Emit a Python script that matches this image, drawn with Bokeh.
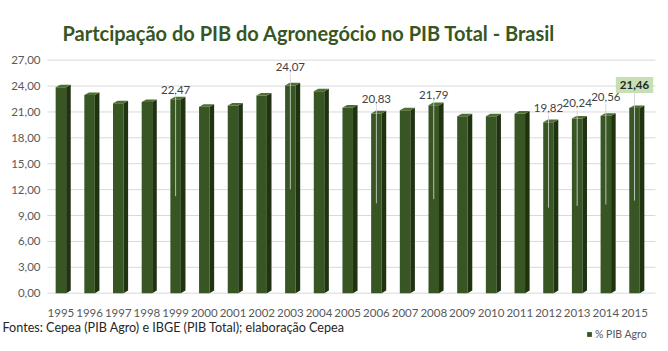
from bokeh.plotting import figure
from bokeh.models import (ColumnDataSource, FixedTicker, Label, Range1d,
                          Legend, LegendItem)
from bokeh.core.properties import value
from bokeh.embed import file_html
from bokeh.resources import INLINE

# ---- data ----
years = list(range(1995, 2016))
pib_agro = [23.85, 22.95, 22.0, 22.15, 22.47, 21.6, 21.75, 22.9, 24.07, 23.4, 21.5,
            20.83, 21.2, 21.79, 20.5, 20.5, 20.8, 19.82, 20.24, 20.56, 21.46]
label_years = [1999, 2003, 2006, 2008, 2012, 2013, 2014]
label_values = [22.47, 24.07, 20.83, 21.79, 19.82, 20.24, 20.56]
highlight_year = 2015
highlight_value = 21.46
y_ticks = [0, 3, 6, 9, 12, 15, 18, 21, 24, 27]
title_text = "Partcipação do PIB do Agronegócio no PIB Total - Brasil"
source_text = "Fontes: Cepea (PIB Agro) e IBGE (PIB Total); elaboração Cepea"
series_name = "% PIB Agro"

# ---- layout / style (not data) ----
label_offsets = [1.12, 2.09, 1.72, 1.2, 1.6, 1.74, 2.12]
highlight_offset = 2.66
FRONT = "#375623"
SIDE = "#1f3310"
TOP = "#4d7030"
FONT = "Lato"
X0, X1 = 1992.894, 2016.185       # frame spans full width
AXIS_X = 1994.463                  # where the value axis sits
GRID_X0, GRID_X1 = 1994.53, 2015.73

p = figure(width=668, height=351, output_backend="svg", toolbar_location=None,
           x_range=Range1d(X0, X1), y_range=Range1d(-6.755, 27.54),
           min_border=0, min_border_top=55, outline_line_color=None)

# title
p.title.text = title_text
p.title.align = "left"
p.title.offset = 62
p.title.standoff = 21
p.title.text_font = FONT
p.title.text_font_size = "20px"
p.title.text_font_style = "bold"
p.title.text_color = "#375623"

# grid lines
p.xgrid.visible = False
p.ygrid.visible = False
p.segment(x0=[GRID_X0] * len(y_ticks), x1=[GRID_X1] * len(y_ticks),
          y0=y_ticks, y1=y_ticks, line_color="#d9d9d9", line_width=1)

# 3D bar faces computed in data space
w = 0.183
dx = 0.16
dy = 0.3
front = ColumnDataSource(dict(x=years, top=pib_agro))
bars = p.vbar(x="x", top="top", bottom=0, width=2 * w, source=front,
              fill_color=FRONT, line_color=None)
side_xs = [[x + w, x + w + dx, x + w + dx, x + w] for x in years]
side_ys = [[0, dy, v + dy, v] for v in pib_agro]
p.patches(side_xs, side_ys, fill_color=SIDE, line_color=None)
top_xs = [[x - w, x + w, x + w + dx, x - w + dx] for x in years]
top_ys = [[v, v, v + dy, v + dy] for v in pib_agro]
p.patches(top_xs, top_ys, fill_color=TOP, line_color=None)

# leader lines
all_lab_years = label_years + [highlight_year]
all_lab_vals = label_values + [highlight_value]
all_offsets = label_offsets + [highlight_offset]
p.segment(x0=all_lab_years, y0=[v + o - 0.75 for v, o in zip(all_lab_vals, all_offsets)],
          x1=all_lab_years, y1=[v * 0.5 for v in all_lab_vals],
          line_color="#d0d0d0", line_width=1, line_alpha=0.85)

# data labels
lab_src = ColumnDataSource(dict(x=label_years,
                                y=[v + o for v, o in zip(label_values, label_offsets)],
                                t=[f"{v:.2f}".replace(".", ",") for v in label_values]))
p.text(x="x", y="y", text="t", source=lab_src, text_align="center",
       text_baseline="middle", text_font=value(FONT), text_font_size="11.5px",
       text_color="#404040")
hl = Label(x=highlight_year, y=highlight_value + highlight_offset,
           text=f"{highlight_value:.2f}".replace(".", ","),
           text_align="center", text_baseline="middle", text_font=FONT,
           text_font_size="11.5px", text_font_style="bold", text_color="#262626",
           background_fill_color="#c6e0b4", border_line_color=None,
           padding=4)
p.add_layout(hl)

# axes (fixed inside the full-size frame)
p.yaxis.fixed_location = AXIS_X
p.xaxis.fixed_location = 0
p.yaxis.ticker = FixedTicker(ticks=y_ticks)
p.yaxis.major_label_overrides = {t: f"{t:.2f}".replace(".", ",") for t in y_ticks}
p.xaxis.ticker = FixedTicker(ticks=years)
for ax in (p.xaxis, p.yaxis):
    ax.axis_line_color = None
    ax.major_tick_line_color = None
    ax.minor_tick_line_color = None
    ax.major_tick_out = 0
    ax.major_tick_in = 0
    ax.minor_tick_out = 0
    ax.major_label_text_font = FONT
    ax.major_label_text_font_size = "11.5px"
    ax.major_label_text_color = "#595959"
p.yaxis.major_label_standoff = 5
p.xaxis.major_label_standoff = 16

# source note
p.add_layout(Label(x=2, y=24, x_units="screen", y_units="screen",
                   text=source_text, text_font=FONT, text_font_size="12.6px",
                   text_color="#262626", text_baseline="middle"))

# legend
legend = Legend(items=[LegendItem(label=series_name, renderers=[bars])],
                location=(586, 11), background_fill_alpha=0,
                border_line_color=None, glyph_width=6, glyph_height=6,
                label_text_font=FONT, label_text_font_size="10.5px",
                label_text_color="#595959", label_standoff=3, padding=0,
                margin=0, label_height=12)
p.add_layout(legend)

open("out.html", "w").write(file_html(p, INLINE))
